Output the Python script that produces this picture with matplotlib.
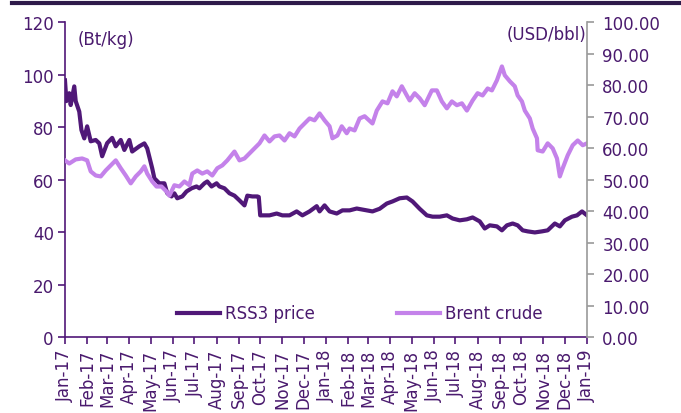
import matplotlib
matplotlib.use("Agg")
import matplotlib.pyplot as plt
import matplotlib.dates as mdates
from matplotlib.lines import Line2D
import pandas as pd

# RSS3 price (Bt/kg): day offset from 1 Jan 2017, value
rss_day = [0, 2, 6, 8, 13, 15, 20, 23, 27, 31, 36, 43, 48, 52, 59, 66, 71, 78, 83, 90,
           94, 104, 111, 115, 122, 125, 132, 139, 143, 149, 153, 157, 164, 170, 177, 184,
           188, 195, 199, 205, 212, 216, 223, 230, 237, 244, 251, 255, 262, 269, 271, 273,
           279, 286, 296, 304, 314, 324, 332, 342, 352, 356, 363, 370, 380, 388, 398, 408,
           422, 430, 440, 450, 458, 468, 478, 486, 496, 506, 514, 524, 534, 542, 552, 562,
           570, 580, 587, 594, 604, 611, 618, 626, 633, 640, 647, 657, 667, 675, 685, 692,
           699, 709, 716, 723, 730]
rss_val = [97.9, 90, 93, 88.5, 95.6, 90, 86, 79, 75.8, 80.4, 74.7, 75.2, 73.9, 69, 74, 76,
           72.8, 75.2, 71.4, 75.2, 70.8, 72.8, 73.9, 72, 64.4, 60.6, 58.7, 58.7, 54.9, 53.7,
           54.9, 53, 53.7, 55.6, 56.8, 57.5, 56.8, 58.7, 59.4, 57.5, 58.7, 57.5, 56.8, 54.9,
           54, 52.2, 50.3, 54, 53.7, 53.7, 53.5, 46.5, 46.5, 46.5, 47.2, 46.5, 46.5, 48, 46.5,
           48, 50, 48, 50.3, 48, 47.2, 48.4, 48.4, 49.1, 48.4, 48, 49, 51, 51.8, 53, 53.3,
           51.8, 49, 46.5, 46, 46, 46.5, 45.3, 44.6, 45, 45.7, 44.2, 41.5, 42.7, 42.3, 40.8,
           42.7, 43.4, 42.7, 40.8, 40.4, 40, 40.4, 40.8, 43.4, 42.3, 44.6, 46, 46.5, 48, 46.5]

# Brent crude (USD/bbl)
brent_day = [0, 6, 15, 24, 31, 36, 43, 50, 57, 64, 71, 78, 85, 92, 99, 106, 111, 115, 122,
             128, 135, 142, 146, 153, 160, 167, 174, 178, 185, 192, 199, 206, 213, 220, 227,
             237, 244, 251, 258, 265, 272, 279, 286, 293, 300, 307, 314, 321, 328, 335, 342,
             349, 356, 363, 370, 374, 381, 387, 394, 398, 405, 412, 419, 430, 436, 444, 451,
             458, 464, 471, 478, 482, 489, 496, 503, 513, 520, 527, 534, 541, 548, 555, 562,
             570, 577, 584, 591, 597, 604, 611, 615, 622, 629, 633, 639, 643, 650, 654, 660,
             661, 668, 675, 682, 688, 692, 696, 703, 710, 717, 724, 730]
brent_val = [56.2, 55.2, 56.5, 56.8, 56.2, 52.7, 51.4, 51.1, 53, 54.6, 56.2, 53.7, 51.4, 48.9,
             51.1, 52.7, 54.3, 52, 49.5, 47.9, 47.9, 46.3, 45, 48.3, 47.9, 49.5, 48.3, 52, 53,
             52, 52.7, 51.4, 53.7, 54.6, 56.2, 59, 56.2, 56.8, 58.4, 60, 61.6, 64.1, 62.2, 63.8,
             64.1, 62.5, 64.8, 63.8, 66.3, 67.9, 69.5, 68.9, 71.1, 68.9, 67, 63.2, 64.1, 67,
             64.8, 66.3, 65.7, 69.5, 70.2, 67.9, 72, 74.9, 74.3, 78.1, 76.5, 79.7, 76.8, 75.2,
             77.5, 75.9, 73.7, 78.4, 78.4, 74.9, 72.7, 74.9, 73.7, 74.3, 72, 75.2, 77.5, 76.8,
             79, 78.4, 81.6, 86, 83.2, 81.3, 79.7, 76.8, 74.9, 72, 69.5, 66.3, 63.2, 59.4, 59,
             61.6, 60, 56.8, 51.1, 53.7, 57.8, 61, 62.5, 61, 61.6]

start = pd.Timestamp("2017-01-01")
rss_dates = start + pd.to_timedelta(rss_day, unit="D")
brent_dates = start + pd.to_timedelta(brent_day, unit="D")

dark = "#501878"
light = "#C482EA"
text_col = "#4A1A6E"
grey = "#9A9A9A"

plt.rcParams["font.family"] = "DejaVu Sans"
plt.rcParams["font.size"] = 12

fig = plt.figure(figsize=(6.81, 4.14), dpi=100)
ax = fig.add_axes([0.0954, 0.1824, 0.862 - 0.0954, 0.9437 - 0.1824])
ax2 = ax.twinx()

l1, = ax.plot(rss_dates, rss_val, color=dark, lw=3, label="RSS3 price")
l2, = ax2.plot(brent_dates, brent_val, color=light, lw=3, label="Brent crude")

ax.set_ylim(0, 120)
ax.set_yticks(range(0, 121, 20))
ax2.set_ylim(0, 100)
ax2.set_yticks(range(0, 101, 10))
ax2.yaxis.set_major_formatter(matplotlib.ticker.FormatStrFormatter("%.2f"))

ax.set_xlim(pd.Timestamp("2017-01-01"), pd.Timestamp("2019-01-01"))
ax.xaxis.set_major_locator(mdates.MonthLocator())
ax.xaxis.set_major_formatter(mdates.DateFormatter("%b-%y"))
for lab in ax.get_xticklabels():
    lab.set_rotation(90)

ax.spines["top"].set_visible(False)
ax2.spines["top"].set_visible(False)
ax.spines["right"].set_visible(False)
ax.spines["left"].set_color(dark)
ax.spines["bottom"].set_color(dark)
ax2.spines["left"].set_visible(False)
ax2.spines["bottom"].set_visible(False)
ax2.spines["right"].set_color(grey)
for sp in ax.spines.values():
    sp.set_linewidth(1.2)
ax2.spines["right"].set_linewidth(1.2)

ax.tick_params(axis="both", colors=dark, labelcolor=text_col, length=5, width=1.2, pad=3)
ax2.tick_params(axis="y", colors=grey, labelcolor=text_col, length=5, width=1.2, pad=6)

ax.text(0.025, 0.975, "(Bt/kg)", transform=ax.transAxes, color=text_col,
        ha="left", va="top")
ax2.text(0.999, 0.99, "(USD/bbl)", transform=ax.transAxes, color=text_col,
         ha="right", va="top")

ax2.legend([l1, l2], ["RSS3 price", "Brent crude"], loc="lower center",
           bbox_to_anchor=(0.565, 0.0), ncol=2, frameon=False, handlelength=2.6,
           handletextpad=0.3, columnspacing=4.9, labelcolor=text_col)

fig.add_artist(Line2D([12 / 681, 1], [1 - 3.5 / 414, 1 - 3.5 / 414],
                      transform=fig.transFigure, color="#2E1A4A", lw=3))

fig.savefig("out.png", dpi=100)
